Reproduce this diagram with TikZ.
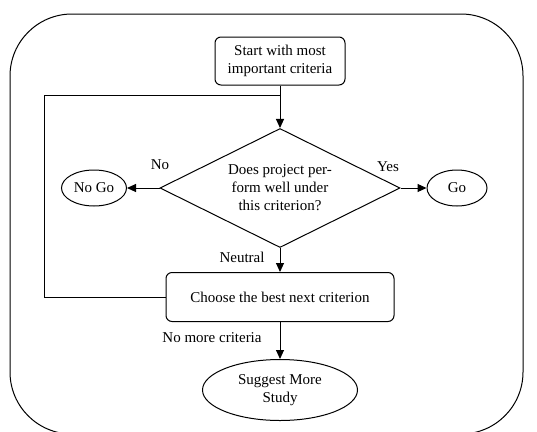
\documentclass[tikz,border=0pt]{standalone}
\usepackage{fontspec}
\setmainfont{Liberation Serif}
\usepackage{tikz}
\usetikzlibrary{arrows.meta,shapes.geometric}

\begin{document}
\begin{tikzpicture}[x=1pt,y=-1pt,line width=1pt,
    every node/.style={font=\fontsize{15}{18}\selectfont},
    stepbox/.style={draw,rounded corners=6pt,align=center,inner sep=0pt},
    decision/.style={draw,diamond,aspect=2,align=center,inner sep=0pt,minimum width=240pt,minimum height=119pt},
    endpoint/.style={draw,ellipse,align=center,inner sep=0pt},
    flow/.style={-{Triangle[length=9pt,width=8pt]}}]
    \useasboundingbox (0,0) rectangle (537,431);

    % Outer frame
    \draw[rounded corners=62pt] (10,14) rectangle (523,434);

    % Main steps
    \node[stepbox,minimum width=130pt,minimum height=48pt] (start) at (280,61)
        {Start with most\\important criteria};
    \node[decision] (test) at (280,188)
        {Does project per-\\form well under\\this criterion?};
    \node[stepbox,minimum width=228pt,minimum height=49pt] (choose) at (280,297)
        {Choose the best next criterion};

    % Outcomes
    \node[endpoint,minimum width=65pt,minimum height=36pt] (nogo) at (94,188) {No Go};
    \node[endpoint,minimum width=60pt,minimum height=36pt] (go) at (457,188) {Go};
    \node[endpoint,minimum width=155pt,minimum height=61pt] (study) at (280,390)
        {Suggest More\\Study};

    % Connectors
    \draw[flow] (start) -- (test);
    \draw[flow] (test.west) -- (nogo);
    \draw[flow] (test.east) -- (go);
    \draw[flow] (test.south) -- (choose);
    \draw[flow] (choose) -- (study);

    % Loop back to the top
    \coordinate (bend) at (44,95);
    \draw (choose.west) -| (bend) -- (start.south |- bend);

    % Branch labels
    \node (lno) at (160,165) {No};
    \node (lyes) at (388,167) {Yes};
    \node (lneutral) at (242,257) {Neutral};
    \node (lnomore) at (212,338) {No more criteria};
\end{tikzpicture}
\end{document}
